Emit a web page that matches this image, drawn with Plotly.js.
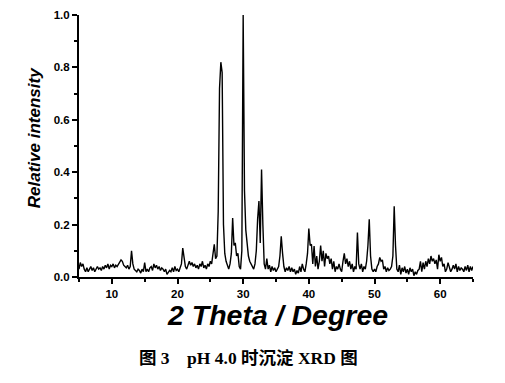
<!DOCTYPE html>
<html>
<head>
<meta charset="utf-8">
<script src="https://cdn.plot.ly/plotly-3.0.1.min.js"></script>
<style>html,body{margin:0;padding:0;background:#fff;}#chart{width:505px;height:383px;}</style>
</head>
<body>
<div id="chart"></div>
<script>
// 2-theta start and step (degrees)
const thetaStart = 5;
const thetaStep = 0.2;
// Relative intensity, 5.0 .. 65.0 every 0.2 degree
const intensity = [
  // 5.0 - 9.8
  0.03,0.055,0.04,0.05,0.03,0.02,0.035,0.02,0.03,0.04,0.025,0.035,0.02,0.03,0.04,0.03,0.035,0.025,0.04,0.03,0.045,0.035,0.05,0.03,0.045,
  // 10.0 - 14.8
  0.04,0.05,0.035,0.045,0.04,0.05,0.055,0.065,0.06,0.045,0.04,0.035,0.045,0.03,0.04,0.10,0.05,0.03,0.025,0.02,0.03,0.025,0.015,0.03,0.02,
  // 15.0 - 19.8
  0.055,0.02,0.03,0.02,0.035,0.04,0.025,0.05,0.035,0.045,0.03,0.04,0.025,0.035,0.03,0.02,0.03,0.01,0.02,0.025,0.02,0.035,0.02,0.04,0.025,
  // 20.0 - 24.8
  0.03,0.02,0.04,0.05,0.11,0.07,0.04,0.03,0.05,0.06,0.045,0.055,0.04,0.05,0.035,0.045,0.03,0.05,0.04,0.06,0.035,0.045,0.03,0.05,0.04,
  // 25.0 - 29.8
  0.06,0.05,0.09,0.125,0.07,0.08,0.25,0.72,0.82,0.78,0.2,0.09,0.06,0.04,0.03,0.05,0.09,0.225,0.12,0.13,0.08,0.09,0.04,0.03,0.1,
  // 30.0 - 34.8
  1.0,0.33,0.18,0.11,0.08,0.06,0.05,0.04,0.03,0.05,0.1,0.22,0.29,0.13,0.41,0.2,0.05,0.03,0.07,0.03,0.045,0.02,0.04,0.025,0.035,
  // 35.0 - 39.8
  0.02,0.03,0.04,0.08,0.155,0.09,0.04,0.02,0.035,0.025,0.04,0.02,0.035,0.02,0.03,0.01,0.025,0.015,0.04,0.02,0.05,0.03,0.02,0.05,0.09,
  // 40.0 - 44.8
  0.185,0.12,0.125,0.05,0.118,0.04,0.08,0.03,0.06,0.12,0.06,0.1,0.04,0.09,0.07,0.08,0.05,0.07,0.03,0.06,0.02,0.04,0.03,0.05,0.03,
  // 45.0 - 49.8
  0.02,0.06,0.09,0.05,0.07,0.04,0.06,0.03,0.05,0.02,0.04,0.03,0.17,0.05,0.03,0.05,0.02,0.04,0.03,0.06,0.12,0.22,0.08,0.03,0.02,
  // 50.0 - 54.8
  0.03,0.02,0.04,0.05,0.075,0.06,0.065,0.03,0.04,0.02,0.035,0.025,0.03,0.04,0.08,0.27,0.12,0.03,0.02,0.045,0.01,0.035,0.02,0.04,0.015,
  // 55.0 - 59.8
  0.03,0.01,0.035,0.02,0.03,0.005,0.02,0.01,0.025,0.03,0.06,0.02,0.055,0.03,0.06,0.04,0.07,0.05,0.08,0.06,0.07,0.05,0.065,0.03,0.085,
  // 60.0 - 64.8
  0.06,0.075,0.04,0.05,0.02,0.03,0.055,0.04,0.02,0.03,0.045,0.03,0.05,0.02,0.04,0.025,0.035,0.03,0.02,0.04,0.025,0.045,0.02,0.04,0.025,
  // 65.0
  0.04
];
const xTickVals = [10, 20, 30, 40, 50, 60];
const yTickVals = [0, 0.2, 0.4, 0.6, 0.8, 1.0];
const yTickText = ['0.0', '0.2', '0.4', '0.6', '0.8', '1.0'];
const xTitle = '2 Theta / Degree';
const yTitle = 'Relative intensity';
const caption = '图 3\u00a0\u00a0\u00a0\u00a0pH 4.0 时沉淀 XRD 图';

const trace = {
  type: 'scatter', mode: 'lines',
  x0: thetaStart, dx: thetaStep, y: intensity,
  line: {color: '#000', width: 1.4},
  hoverinfo: 'skip'
};

const sans = 'Liberation Sans, Arial, sans-serif';
const tickFont = {family: sans, size: 11.5, color: '#000', weight: 700};

const layout = {
  width: 505, height: 383,
  margin: {l: 79, r: 32, t: 15, b: 106},
  paper_bgcolor: '#fff', plot_bgcolor: '#fff',
  showlegend: false,
  xaxis: {
    range: [5, 65], showgrid: false, zeroline: false,
    showline: true, linecolor: '#000', linewidth: 2,
    ticks: 'outside', ticklen: 5, tickwidth: 2, tickcolor: '#000',
    tickvals: xTickVals, tickfont: tickFont,
    minor: {dtick: 5, tick0: 5, ticks: 'outside', ticklen: 3, tickwidth: 2, tickcolor: '#000'}
  },
  yaxis: {
    range: [0, 1.0], showgrid: false, zeroline: false,
    showline: true, linecolor: '#000', linewidth: 2,
    ticks: 'outside', ticklen: 5, tickwidth: 2, tickcolor: '#000',
    tickvals: yTickVals, ticktext: yTickText, tickfont: tickFont,
    minor: {dtick: 0.1, tick0: 0, ticks: 'outside', ticklen: 3, tickwidth: 2, tickcolor: '#000'}
  },
  annotations: [
    {
      xref: 'paper', yref: 'paper', x: 0.503, y: -0.146, xanchor: 'center', yanchor: 'middle',
      text: xTitle, showarrow: false,
      font: {family: sans, size: 28.5, color: '#000', weight: 700, style: 'italic'}
    },
    {
      xref: 'paper', yref: 'paper', x: -0.114, y: 0.53, xanchor: 'center', yanchor: 'middle',
      text: yTitle, showarrow: false, textangle: -90,
      font: {family: sans, size: 17, color: '#000', weight: 700, style: 'italic'}
    },
    {
      xref: 'paper', yref: 'paper', x: 0.43, y: -0.308, xanchor: 'center', yanchor: 'middle',
      text: caption, showarrow: false,
      font: {family: 'Liberation Serif, Noto Sans CJK SC, serif', size: 17.5, color: '#000', weight: 700}
    }
  ]
};

Plotly.newPlot('chart', [trace], layout, {displayModeBar: false, staticPlot: true});
</script>
</body>
</html>
